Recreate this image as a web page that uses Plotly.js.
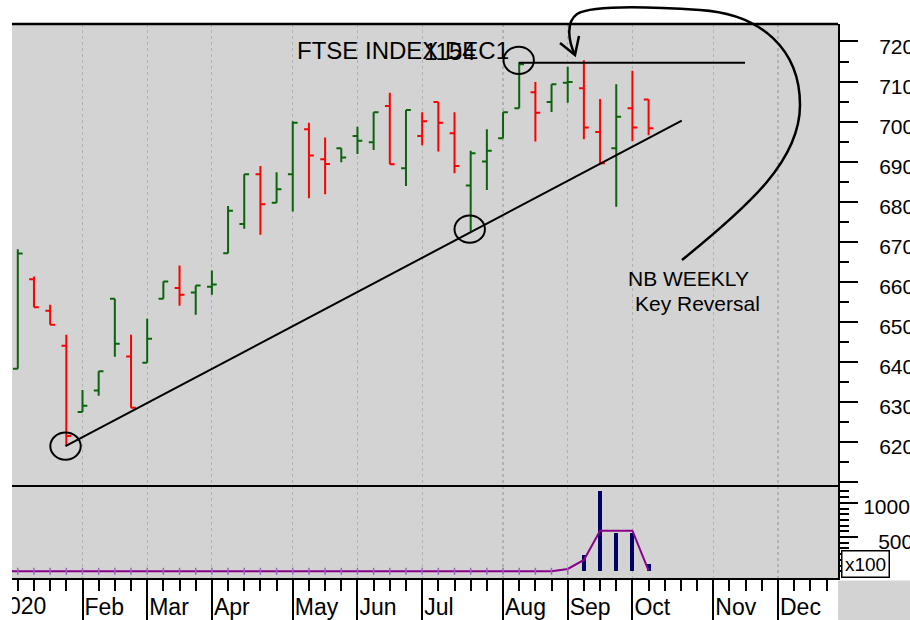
<!DOCTYPE html>
<html>
<head>
<meta charset="utf-8">
<script src="https://cdn.plot.ly/plotly-3.0.1.min.js"></script>
<style>
html,body{margin:0;padding:0;background:#ffffff;}
#chart{width:910px;height:620px;}
</style>
</head>
<body>
<div id="chart"></div>
<script>
// ---------------- DATA (weekly bars, week index 0 = first week of Jan) ----------------
const weeks  = [0,1,2,3,4,5,6,7,8,9,10,11,12,13,14,15,16,17,18,19,20,21,22,23,24,25,26,27,28,29,30,31,32,33,34,35,36,37,38,39];
const openP  = [6382,6606,6527,6440,6274,6328,6557,6413,6397,6557,6584,6573,6587,6671,6744,6868,6797,6868,6981,6906,6933,6964,6948,7039,6883,6964,7049,6971,6840,6900,6958,7033,7073,7049,7097,7083,6974,6933,7033,7055];
const highP  = [6681,6613,6542,6467,6329,6376,6557,6467,6507,6600,6640,6590,6628,6789,6868,6889,6873,7001,6997,6960,6933,6987,7023,7072,7029,7023,7049,7023,6927,6981,7023,7147,7099,7093,7137,7153,7056,7093,7127,7055];
const lowP   = [6382,6536,6492,6189,6274,6315,6412,6285,6397,6557,6540,6517,6567,6671,6732,6717,6797,6775,6808,6818,6898,6919,6929,6893,6839,6941,6925,6871,6725,6829,6958,7033,6950,7024,7047,6956,6896,6787,6951,6966];
const closeP = [6670,6536,6492,6214,6290,6376,6445,6285,6457,6600,6567,6590,6593,6777,6868,6793,6831,6997,6915,6894,6910,6952,7023,6893,7029,7001,6997,6889,6921,6927,7023,7143,7022,7093,7099,6985,6896,7012,6985,6983];

// volume panel (values shown x100)
const volWeeks = [-1,0,1,2,3,4,5,6,7,8,9,10,11,12,13,14,15,16,17,18,19,20,21,22,23,24,25,26,27,28,29,30,31,32,33,34,35,36,37,38,39];
const volume   = [0,0,0,0,0,0,0,0,0,0,0,0,0,0,0,0,0,0,0,0,0,0,0,0,0,0,0,0,0,0,0,0,0,0,0,0,238,1177,559,559,107];
const volAvg   = [0,0,0,0,0,0,0,0,0,0,0,0,0,0,0,0,0,0,0,0,0,0,0,0,0,0,0,0,0,0,0,0,0,0,0,34,165,593,593,593,10];

// axis ticks
const monthWeeks  = [4,8,12,17,21,25,30,34,38,43,47];
const monthLabels = ['Feb','Mar','Apr','May','Jun','Jul','Aug','Sep','Oct','Nov','Dec'];
const yearTickWeek = [-0.9];
const yearLabel    = ['2020'];
const priceTicks   = [6100,6200,6300,6400,6500,6600,6700,6800,6900,7000,7100,7200];
const priceLabels  = ['','6200','6300','6400','6500','6600','6700','6800','6900','7000','7100','7200'];
const volTickMain  = [1000];
const volTickHalf  = [500];

// chart annotations (drawn lines, circles, notes) in data units
const trendX = [2.95, 41.05], trendY = [6189, 7002];
const circleCenters = [[2.95, 6189], [27.94, 6731], [30.97, 7153]];
const resistX = [30.97, 44.96], resistY = 7147;

// ---------------- LAYOUT GEOMETRY ----------------
const FONT = 'Liberation Sans, Arial, Helvetica, sans-serif';
const W = 910, H = 620, ML = 0, MR = 72, MT = 24, MB = 42;
const PW = W - ML - MR, PH = H - MT - MB;
const pxX = v => (v - ML) / PW;          // pixel -> paper x
const pxY = v => (H - MB - v) / PH;      // pixel -> paper y
const split = pxY(486);
const xRange = [-1.1005, 50.71];
const yRange = [6089.3, 7243.7];
const vRange = [-97.8, 1245];

const GREEN = '#0a640a', RED = '#ff0000', NAVY = '#000066', PURPLE = '#8b008b';
const BG = '#d3d3d3';

// colour by close vs previous close
const isUp = closeP.map((c, i) => i === 0 ? true : c > closeP[i - 1]);
const pick = (arr, up) => arr.filter((_, i) => isUp[i] === up);

function ohlcTrace(up) {
  const col = up ? GREEN : RED;
  return {
    type: 'ohlc', x: pick(weeks, up), open: pick(openP, up), high: pick(highP, up),
    low: pick(lowP, up), close: pick(closeP, up),
    increasing: {line: {color: col, width: 2}}, decreasing: {line: {color: col, width: 2}},
    tickwidth: 0.3, xaxis: 'x', yaxis: 'y', hoverinfo: 'skip', showlegend: false
  };
}

const zeroIdx = volume.map((v, i) => v === 0 ? i : -1).filter(i => i >= 0);

const traces = [
  ohlcTrace(true),
  ohlcTrace(false),
  {type: 'bar', x: volWeeks, y: volume, width: 0.25, marker: {color: NAVY, line: {width: 0}},
   xaxis: 'x', yaxis: 'y2', hoverinfo: 'skip', showlegend: false},
  {type: 'scatter', mode: 'lines', x: volWeeks, y: volAvg, line: {color: PURPLE, width: 2},
   xaxis: 'x', yaxis: 'y2', hoverinfo: 'skip', showlegend: false},
  {type: 'scatter', mode: 'markers', x: zeroIdx.map(i => volWeeks[i]), y: zeroIdx.map(i => volume[i]),
   marker: {symbol: 'line-ns-open', size: 5, line: {color: NAVY, width: 1.5}},
   xaxis: 'x', yaxis: 'y2', hoverinfo: 'skip', showlegend: false},
  // empty traces so the extra label axes are drawn
  {type: 'scatter', mode: 'markers', x: [null], y: [null], xaxis: 'x3', yaxis: 'y2', hoverinfo: 'skip', showlegend: false},
  {type: 'scatter', mode: 'markers', x: [null], y: [null], xaxis: 'x', yaxis: 'y3', hoverinfo: 'skip', showlegend: false}
];

// minor tick positions
const allWeeks = [];
for (let w = -1; w <= 50; w++) allWeeks.push(w);
const priceMinor = [];
for (let v = 6150; v <= 7250; v += 100) priceMinor.push(v);
const volMinor = [];
for (let k = 0; k <= 14; k++) if (k % 6 !== 0 || k === 0) volMinor.push(k * 500 / 6);

const tickFont = {family: FONT, size: 21, color: '#000'};

// curved arrow (pixel points converted to paper units)
function pathFromPx(cmds) {
  return cmds.map(c => {
    if (typeof c === 'string') return c;
    return pxX(c[0]).toFixed(5) + ',' + pxY(c[1]).toFixed(5);
  }).join(' ');
}
const arrowPath = pathFromPx(['M', [682, 260], 'C', [750, 205], [800, 160], [800, 105],
  'C', [800, 50], [762, 14], [700, 10], 'C', [640, 6], [590, 6], [577, 14],
  'C', [566, 22], [568, 40], [575, 55]]);
const arrowHead = pathFromPx(['M', [560, 43], 'L', [575, 55], 'L', [579, 36]]);

const shapes = [
  // white strip at left edge of plot
  {type: 'rect', xref: 'paper', yref: 'paper', x0: -0.01, x1: pxX(12), y0: -0.1, y1: 1.1,
   fillcolor: '#ffffff', line: {width: 0}, layer: 'above'},
  // grey corner below the right axis
  {type: 'rect', xref: 'paper', yref: 'paper', x0: 1, x1: pxX(912), y0: pxY(622), y1: pxY(580.5),
   fillcolor: BG, line: {width: 0}, layer: 'below'},
  // top border & panel divider
  {type: 'line', xref: 'paper', yref: 'paper', x0: pxX(12), x1: 1, y0: 1, y1: 1, line: {color: '#000', width: 2.5}, layer: 'above'},
  {type: 'line', xref: 'paper', yref: 'paper', x0: pxX(12), x1: 1, y0: split, y1: split, line: {color: '#000', width: 2}, layer: 'above'},
  // trend line
  {type: 'line', xref: 'x', yref: 'y', x0: trendX[0], x1: trendX[1], y0: trendY[0], y1: trendY[1],
   line: {color: '#000', width: 2}, layer: 'above'},
  // resistance line
  {type: 'line', xref: 'x', yref: 'y', x0: resistX[0], x1: resistX[1], y0: resistY, y1: resistY,
   line: {color: '#000', width: 2}, layer: 'above'},
  // arrow
  {type: 'path', xref: 'paper', yref: 'paper', path: arrowPath, line: {color: '#000', width: 2.5}, layer: 'above'},
  {type: 'path', xref: 'paper', yref: 'paper', path: arrowHead, line: {color: '#000', width: 2.5}, layer: 'above'}
];
circleCenters.forEach(c => {
  shapes.push({type: 'circle', xref: 'x', yref: 'y', x0: c[0] - 0.94, x1: c[0] + 0.94,
    y0: c[1] - 34, y1: c[1] + 34, line: {color: '#000', width: 2}, layer: 'above'});
});

const annotations = [
  {text: '1154', xref: 'paper', yref: 'paper', x: pxX(422), y: pxY(51), xanchor: 'left', yanchor: 'middle',
   showarrow: false, font: {family: FONT, size: 24, color: '#000'}},
  {text: 'NB WEEKLY', xref: 'paper', yref: 'paper', x: pxX(626), y: pxY(278), xanchor: 'left', yanchor: 'middle',
   showarrow: false, font: {family: FONT, size: 21, color: '#000'}},
  {text: 'Key Reversal', xref: 'paper', yref: 'paper', x: pxX(633), y: pxY(303.5), xanchor: 'left', yanchor: 'middle',
   showarrow: false, font: {family: FONT, size: 21, color: '#000'}},
  {text: 'x100', xref: 'paper', yref: 'paper', x: pxX(841), y: 0, xanchor: 'left', yanchor: 'bottom',
   showarrow: false, font: {family: FONT, size: 19, color: '#000'}, width: 46, height: 25,
   bordercolor: '#000', borderwidth: 1.5, borderpad: 0, bgcolor: '#ffffff'}
];

const layout = {
  width: W, height: H,
  margin: {l: ML, r: MR, t: MT, b: MB, pad: 0},
  paper_bgcolor: '#ffffff', plot_bgcolor: BG,
  showlegend: false, bargap: 0,
  font: {family: FONT, color: '#000'},
  title: {text: 'FTSE INDEX DEC1', font: {family: FONT, size: 24, color: '#000'},
          xref: 'container', yref: 'container', x: 297 / W, xanchor: 'left', y: 1 - 51 / H, yanchor: 'middle'},
  xaxis: {
    domain: [0, 1], range: xRange, anchor: 'y2', fixedrange: true,
    rangeslider: {visible: false},
    showline: true, linecolor: '#000', linewidth: 2, zeroline: false,
    tickmode: 'array', tickvals: monthWeeks, ticktext: monthLabels,
    ticks: 'outside', ticklen: 42, tickwidth: 2, tickcolor: '#000',
    ticklabelposition: 'outside right', ticklabelstandoff: 7, ticklabeloverflow: 'allow',
    tickfont: {family: FONT, size: 23, color: '#000'},
    showgrid: true, gridcolor: '#b2b2b2', griddash: 'dot', gridwidth: 1.2,
    minor: {tickmode: 'array', tickvals: allWeeks, ticks: 'outside', ticklen: 11, tickwidth: 2, tickcolor: '#000', showgrid: false}
  },
  xaxis3: {
    overlaying: 'x', anchor: 'y2', side: 'bottom', range: xRange, fixedrange: true,
    showline: false, showgrid: false, zeroline: false,
    tickmode: 'array', tickvals: yearTickWeek, ticktext: yearLabel,
    ticks: 'outside', ticklen: 42, tickwidth: 2, tickcolor: 'rgba(0,0,0,0)',
    ticklabelposition: 'outside right', ticklabelstandoff: 7, ticklabelshift: -9, ticklabeloverflow: 'allow',
    tickfont: {family: FONT, size: 23, color: '#000'}
  },
  yaxis: {
    domain: [split, 1], range: yRange, side: 'right', anchor: 'x', fixedrange: true,
    showline: true, linecolor: '#000', linewidth: 2, zeroline: false, showgrid: false,
    tickmode: 'array', tickvals: priceTicks, ticktext: priceLabels,
    ticks: 'outside', ticklen: 18, tickwidth: 2, tickcolor: '#000',
    ticklabelstandoff: 17, ticklabelshift: 5, ticklabeloverflow: 'allow',
    tickfont: tickFont,
    minor: {tickmode: 'array', tickvals: priceMinor, ticks: 'outside', ticklen: 9, tickwidth: 2, tickcolor: '#000', showgrid: false}
  },
  yaxis2: {
    domain: [0, split], range: vRange, side: 'right', anchor: 'x', fixedrange: true,
    showline: true, linecolor: '#000', linewidth: 2, zeroline: false, showgrid: false,
    tickmode: 'array', tickvals: volTickHalf.concat(volTickMain), ticktext: [''].concat(volTickMain.map(String)),
    ticks: 'outside', ticklen: 18, tickwidth: 2, tickcolor: '#000',
    ticklabelstandoff: 1, ticklabelshift: 4, ticklabeloverflow: 'allow',
    tickfont: tickFont,
    minor: {tickmode: 'array', tickvals: volMinor, ticks: 'outside', ticklen: 9, tickwidth: 2, tickcolor: '#000', showgrid: false}
  },
  yaxis3: {
    overlaying: 'y2', range: vRange, side: 'right', anchor: 'x', fixedrange: true,
    showline: false, zeroline: false, showgrid: false,
    tickmode: 'array', tickvals: volTickHalf, ticktext: volTickHalf.map(String),
    ticks: 'outside', ticklen: 18, tickwidth: 2, tickcolor: 'rgba(0,0,0,0)',
    ticklabelstandoff: 17, ticklabelshift: 5, ticklabeloverflow: 'allow',
    tickfont: tickFont
  },
  shapes: shapes,
  annotations: annotations
};

Plotly.newPlot('chart', traces, layout, {staticPlot: true, displayModeBar: false});
</script>
</body>
</html>
